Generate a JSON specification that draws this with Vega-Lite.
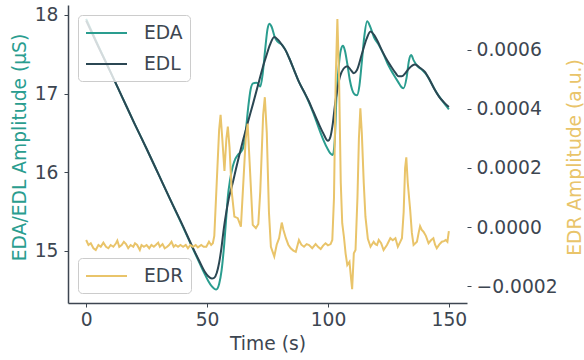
{
"$schema":"https://vega.github.io/schema/vega-lite/v6.json",
"width":399,"height":298,
"autosize":{"type":"none"},
"padding":{"left":68,"top":5,"right":117,"bottom":57},
"config":{"font":"DejaVu Sans","view":{"stroke":null},
"axis":{"grid":false,"labelFontSize":18.7,"titleFontSize":18.7,"labelColor":"#3d4651","titleColor":"#3d4651","titleFontWeight":"normal","domainColor":"#3d4651","tickColor":"#3d4651","tickSize":4,"domainWidth":1.5,"labelFont":"DejaVu Sans","titleFont":"DejaVu Sans"},
"legend":{"symbolType":"M-1,0L3.1,0","symbolSize":400,"symbolStrokeWidth":2,"labelFontSize":18.7,"labelFont":"DejaVu Sans","labelColor":"#3d4651","labelOffset":37,"padding":7,"rowPadding":10,"fillColor":"rgba(255,255,255,0.8)","strokeColor":"#cccccc","cornerRadius":4}},
"datasets":{
"eda":[
{"s":"EDA","t":0,"v":17.95},{"s":"EDA","t":5,"v":17.61},{"s":"EDA","t":10,"v":17.28},{"s":"EDA","t":15,"v":16.95},{"s":"EDA","t":20,"v":16.62},{"s":"EDA","t":25,"v":16.30},{"s":"EDA","t":30,"v":15.97},{"s":"EDA","t":35,"v":15.64},{"s":"EDA","t":40,"v":15.31},{"s":"EDA","t":44,"v":15.04},{"s":"EDA","t":47,"v":14.84},{"s":"EDA","t":49,"v":14.71},{"s":"EDA","t":50.5,"v":14.62},{"s":"EDA","t":52,"v":14.55},{"s":"EDA","t":53,"v":14.52},{"s":"EDA","t":53.8,"v":14.51},{"s":"EDA","t":55,"v":14.58},{"s":"EDA","t":56,"v":14.75},{"s":"EDA","t":57,"v":15.05},{"s":"EDA","t":58,"v":15.45},{"s":"EDA","t":58.6,"v":15.69},{"s":"EDA","t":59.5,"v":15.90},{"s":"EDA","t":60.6,"v":16.07},{"s":"EDA","t":61.7,"v":16.17},{"s":"EDA","t":62.7,"v":16.22},{"s":"EDA","t":64,"v":16.26},{"s":"EDA","t":65,"v":16.32},{"s":"EDA","t":66,"v":16.52},{"s":"EDA","t":67,"v":16.82},{"s":"EDA","t":68,"v":17.05},{"s":"EDA","t":69,"v":17.13},{"s":"EDA","t":70.5,"v":17.14},{"s":"EDA","t":72,"v":17.09},{"s":"EDA","t":73,"v":17.25},{"s":"EDA","t":74,"v":17.55},{"s":"EDA","t":75,"v":17.82},{"s":"EDA","t":75.8,"v":17.89},{"s":"EDA","t":76.7,"v":17.85},{"s":"EDA","t":78,"v":17.72},{"s":"EDA","t":79.2,"v":17.66},{"s":"EDA","t":81,"v":17.62},{"s":"EDA","t":82.5,"v":17.55},{"s":"EDA","t":84,"v":17.45},{"s":"EDA","t":86,"v":17.30},{"s":"EDA","t":88,"v":17.15},{"s":"EDA","t":90,"v":17.03},{"s":"EDA","t":92,"v":16.90},{"s":"EDA","t":94,"v":16.75},{"s":"EDA","t":96,"v":16.58},{"s":"EDA","t":98,"v":16.42},{"s":"EDA","t":100,"v":16.29},{"s":"EDA","t":101,"v":16.24},{"s":"EDA","t":102,"v":16.22},{"s":"EDA","t":102.8,"v":16.40},{"s":"EDA","t":103.5,"v":16.95},{"s":"EDA","t":104.5,"v":17.36},{"s":"EDA","t":105.3,"v":17.55},{"s":"EDA","t":106.2,"v":17.61},{"s":"EDA","t":107,"v":17.55},{"s":"EDA","t":108,"v":17.38},{"s":"EDA","t":109,"v":17.18},{"s":"EDA","t":110,"v":17.05},{"s":"EDA","t":111,"v":16.99},{"s":"EDA","t":112,"v":16.98},{"s":"EDA","t":113,"v":17.10},{"s":"EDA","t":114,"v":17.40},{"s":"EDA","t":115,"v":17.72},{"s":"EDA","t":116.2,"v":17.92},{"s":"EDA","t":117.5,"v":17.85},{"s":"EDA","t":119,"v":17.72},{"s":"EDA","t":121,"v":17.62},{"s":"EDA","t":123,"v":17.50},{"s":"EDA","t":125,"v":17.36},{"s":"EDA","t":127,"v":17.25},{"s":"EDA","t":129,"v":17.15},{"s":"EDA","t":130.5,"v":17.08},{"s":"EDA","t":131.3,"v":17.07},{"s":"EDA","t":132.5,"v":17.20},{"s":"EDA","t":133.5,"v":17.42},{"s":"EDA","t":134.4,"v":17.49},{"s":"EDA","t":135.5,"v":17.42},{"s":"EDA","t":137,"v":17.35},{"s":"EDA","t":139,"v":17.30},{"s":"EDA","t":141,"v":17.23},{"s":"EDA","t":143,"v":17.12},{"s":"EDA","t":145,"v":17.01},{"s":"EDA","t":147,"v":16.92},{"s":"EDA","t":149,"v":16.84},{"s":"EDA","t":150,"v":16.80},
{"s":"EDL","t":0,"v":17.93},{"s":"EDL","t":5,"v":17.60},{"s":"EDL","t":10,"v":17.28},{"s":"EDL","t":15,"v":16.95},{"s":"EDL","t":20,"v":16.62},{"s":"EDL","t":25,"v":16.30},{"s":"EDL","t":30,"v":15.97},{"s":"EDL","t":35,"v":15.64},{"s":"EDL","t":40,"v":15.32},{"s":"EDL","t":44,"v":15.05},{"s":"EDL","t":47,"v":14.86},{"s":"EDL","t":49,"v":14.74},{"s":"EDL","t":50.5,"v":14.68},{"s":"EDL","t":52,"v":14.65},{"s":"EDL","t":53,"v":14.66},{"s":"EDL","t":54,"v":14.72},{"s":"EDL","t":55,"v":14.85},{"s":"EDL","t":56,"v":15.05},{"s":"EDL","t":57,"v":15.30},{"s":"EDL","t":58,"v":15.50},{"s":"EDL","t":59,"v":15.67},{"s":"EDL","t":60.5,"v":15.85},{"s":"EDL","t":62,"v":16.05},{"s":"EDL","t":63.5,"v":16.24},{"s":"EDL","t":65,"v":16.42},{"s":"EDL","t":67,"v":16.65},{"s":"EDL","t":69,"v":16.87},{"s":"EDL","t":71,"v":17.10},{"s":"EDL","t":73,"v":17.33},{"s":"EDL","t":74.5,"v":17.48},{"s":"EDL","t":76,"v":17.62},{"s":"EDL","t":77.8,"v":17.72},{"s":"EDL","t":79.5,"v":17.68},{"s":"EDL","t":81,"v":17.62},{"s":"EDL","t":82.5,"v":17.55},{"s":"EDL","t":84,"v":17.45},{"s":"EDL","t":86,"v":17.30},{"s":"EDL","t":88,"v":17.15},{"s":"EDL","t":90,"v":17.03},{"s":"EDL","t":92,"v":16.91},{"s":"EDL","t":94,"v":16.77},{"s":"EDL","t":96,"v":16.63},{"s":"EDL","t":98,"v":16.50},{"s":"EDL","t":100,"v":16.40},{"s":"EDL","t":101,"v":16.45},{"s":"EDL","t":102,"v":16.62},{"s":"EDL","t":103,"v":16.88},{"s":"EDL","t":104,"v":17.07},{"s":"EDL","t":105,"v":17.22},{"s":"EDL","t":106.5,"v":17.32},{"s":"EDL","t":108,"v":17.35},{"s":"EDL","t":109.5,"v":17.30},{"s":"EDL","t":110.7,"v":17.26},{"s":"EDL","t":112,"v":17.30},{"s":"EDL","t":114,"v":17.50},{"s":"EDL","t":116,"v":17.70},{"s":"EDL","t":117.6,"v":17.79},{"s":"EDL","t":119,"v":17.75},{"s":"EDL","t":120.5,"v":17.67},{"s":"EDL","t":122.3,"v":17.55},{"s":"EDL","t":124,"v":17.45},{"s":"EDL","t":126,"v":17.35},{"s":"EDL","t":128,"v":17.26},{"s":"EDL","t":129.2,"v":17.22},{"s":"EDL","t":130.5,"v":17.22},{"s":"EDL","t":132,"v":17.26},{"s":"EDL","t":133.5,"v":17.32},{"s":"EDL","t":136,"v":17.37},{"s":"EDL","t":138,"v":17.33},{"s":"EDL","t":140,"v":17.28},{"s":"EDL","t":142,"v":17.18},{"s":"EDL","t":144,"v":17.06},{"s":"EDL","t":146,"v":16.96},{"s":"EDL","t":148,"v":16.89},{"s":"EDL","t":150,"v":16.83}
],
"edr":[
{"t":0,"v":-0.000044},{"t":0.96,"v":-0.000061},{"t":1.92,"v":-0.000055},{"t":3.02,"v":-0.000072},{"t":3.98,"v":-0.000078},{"t":5.08,"v":-0.000061},{"t":6.04,"v":-0.000067},{"t":7.13,"v":-0.000053},{"t":8.23,"v":-0.000067},{"t":9.19,"v":-0.000072},{"t":10.15,"v":-0.000061},{"t":11.25,"v":-0.000067},{"t":12.35,"v":-0.000055},{"t":12.9,"v":-0.000046},{"t":13.7,"v":-0.000067},{"t":14.7,"v":-0.000061},{"t":15.6,"v":-0.00005},{"t":16.5,"v":-0.000058},{"t":17.4,"v":-0.000072},{"t":18.4,"v":-0.000061},{"t":19.5,"v":-0.000067},{"t":20.2,"v":-0.000055},{"t":21.1,"v":-0.000061},{"t":22.2,"v":-0.000078},{"t":22.9,"v":-0.000061},{"t":23.9,"v":-0.000067},{"t":25.0,"v":-0.000061},{"t":26.1,"v":-0.000072},{"t":27.0,"v":-0.000061},{"t":28.0,"v":-0.000067},{"t":28.8,"v":-0.000061},{"t":29.8,"v":-0.000053},{"t":30.5,"v":-0.000067},{"t":31.6,"v":-0.000058},{"t":32.5,"v":-0.000072},{"t":33.5,"v":-0.000067},{"t":34.3,"v":-0.000061},{"t":35.3,"v":-0.00005},{"t":36.2,"v":-0.000067},{"t":37.0,"v":-0.000061},{"t":38.0,"v":-0.000067},{"t":39.0,"v":-0.000061},{"t":40.1,"v":-0.000067},{"t":41.2,"v":-0.000061},{"t":42.1,"v":-0.000072},{"t":43.1,"v":-0.000061},{"t":44.2,"v":-0.000067},{"t":45.3,"v":-0.000061},{"t":46.2,"v":-0.000069},{"t":47.6,"v":-0.000061},{"t":48.6,"v":-0.000067},{"t":49.7,"v":-0.000067},{"t":50.8,"v":-0.00005},{"t":51.7,"v":-0.000061},{"t":52.4,"v":-0.000055},
{"t":53,"v":-0.00003},{"t":54,"v":0.00015},{"t":55,"v":0.00033},{"t":55.6,"v":0.00038},{"t":56.3,"v":0.0003},{"t":57.2,"v":0.00019},{"t":58,"v":0.0003},{"t":58.6,"v":0.00034},{"t":59.3,"v":0.00027},{"t":60.2,"v":0.00012},{"t":61.3,"v":0.000035},{"t":62.7,"v":0.00003},{"t":64,"v":0.000001},{"t":64.8,"v":0.00012},{"t":66,"v":0.0003},{"t":66.8,"v":0.00035},{"t":67.6,"v":0.00022},{"t":68.9,"v":0.000007},{"t":70.2,"v":-0.000004},{"t":71.2,"v":0.00001},{"t":72,"v":0.00012},{"t":73.2,"v":0.00038},{"t":73.9,"v":0.00044},{"t":74.7,"v":0.00032},{"t":75.6,"v":0.00005},{"t":76.4,"v":-0.000067},{"t":77.8,"v":-0.0001},{"t":78.8,"v":-0.00006},{"t":79.8,"v":-0.000038},{"t":80.9,"v":0.000015},{"t":81.6,"v":-0.00001},{"t":82.6,"v":-0.000038},{"t":83.6,"v":-0.00006},{"t":84.6,"v":-0.000072},{"t":85.7,"v":-0.00008},{"t":86.7,"v":-0.000084},{"t":88,"v":-0.000044},{"t":89,"v":-0.00006},{"t":90.1,"v":-0.000067},{"t":91.2,"v":-0.000058},{"t":92.2,"v":-0.000061},{"t":93.5,"v":-0.000072},{"t":94.9,"v":-0.000058},{"t":96,"v":-0.000068},{"t":97,"v":-0.000075},{"t":98,"v":-0.000063},{"t":99,"v":-0.000055},{"t":100,"v":-0.000062},{"t":101.1,"v":-0.000058},{"t":101.8,"v":-0.000044},{"t":102.5,"v":0.0001},{"t":103.2,"v":0.0005},{"t":103.9,"v":0.000705},{"t":104.6,"v":0.0005},{"t":105.3,"v":0.00015},{"t":105.9,"v":0.000013},{"t":106.6,"v":-0.000033},{"t":107.3,"v":-0.00009},{"t":108,"v":-0.000129},{"t":108.9,"v":-0.000118},{"t":109.5,"v":-0.00017},{"t":110,"v":-0.000211},{"t":110.7,"v":-0.000089},{"t":111.4,"v":-0.000078},{"t":112.2,"v":0.0001},{"t":112.8,"v":0.0003},{"t":113.4,"v":0.000402},{"t":114,"v":0.00032},{"t":114.8,"v":0.00015},{"t":115.5,"v":0.000035},{"t":116.5,"v":-0.00004},{"t":117.6,"v":-0.000067},{"t":118.9,"v":-0.00005},{"t":119.6,"v":-0.000058},{"t":120.3,"v":-0.000061},{"t":121,"v":-0.000044},{"t":122,"v":-0.000055},{"t":123,"v":-0.000078},{"t":124.4,"v":-0.000061},{"t":125.8,"v":-0.000038},{"t":126.8,"v":-0.000045},{"t":127.9,"v":-0.000038},{"t":128.9,"v":-0.000067},{"t":129.8,"v":-0.000052},{"t":130.6,"v":-0.000038},{"t":131.3,"v":0.00005},{"t":131.9,"v":0.0002},{"t":132.4,"v":0.000236},{"t":133,"v":0.00015},{"t":134,"v":0.000058},{"t":134.7,"v":-0.00002},{"t":135.4,"v":-0.000061},{"t":136.8,"v":-0.00005},{"t":137.5,"v":-0.00002},{"t":138.1,"v":0.000003},{"t":138.8,"v":-0.00001},{"t":139.5,"v":-0.000016},{"t":140.5,"v":-0.00003},{"t":141.6,"v":-0.000055},{"t":142.6,"v":-0.000045},{"t":143.6,"v":-0.000038},{"t":144.3,"v":-0.00006},{"t":145,"v":-0.000072},{"t":146,"v":-0.00006},{"t":147.1,"v":-0.00005},{"t":148,"v":-0.000048},{"t":148.7,"v":-0.000044},{"t":149.4,"v":-0.00005},{"t":150,"v":-0.000014}
]},
"layer":[
{"data":{"name":"eda"},"mark":{"type":"line","interpolate":"monotone","strokeWidth":2},
"encoding":{
"x":{"field":"t","type":"quantitative","scale":{"domain":[-7.5,157.5],"nice":false,"zero":false},"axis":{"values":[0,50,100,150],"title":"Time (s)","labelPadding":3,"titlePadding":6}},
"y":{"field":"v","type":"quantitative","scale":{"domain":[14.339,18.127],"nice":false,"zero":false},"axis":{"values":[15,16,17,18],"title":"EDA/EDL Amplitude (μS)","titleColor":"#2a9d8f","labelPadding":6,"titleAngle":270,"titleX":-39,"titleY":142,"titleBaseline":"bottom","titleAlign":"center"}},
"color":{"field":"s","type":"nominal","scale":{"domain":["EDA","EDL"],"range":["#2a9d8f","#2b4753"]},"legend":{"title":null,"orient":"top-left","offset":10}}}},
{"data":{"name":"edr"},"mark":{"type":"line","strokeWidth":2},
"encoding":{
"x":{"field":"t","type":"quantitative"},
"y":{"field":"v","type":"quantitative","scale":{"domain":[-0.0002576,0.0007525],"nice":false,"zero":false},"axis":{"orient":"right","values":[-0.0002,0,0.0002,0.0004,0.0006],"format":".4f","domain":false,"title":"EDR Amplitude (a.u.)","titleColor":"#e9c46a","labelPadding":5,"titleAngle":270,"titleX":98,"titleY":152,"titleBaseline":"top","titleAlign":"center"}},
"color":{"datum":"EDR","type":"nominal","scale":{"domain":["EDR"],"range":["#e9c46a"]},"legend":{"title":null,"orient":"bottom-left","offset":10}}}}
],
"resolve":{"scale":{"y":"independent","color":"independent"}}
}
